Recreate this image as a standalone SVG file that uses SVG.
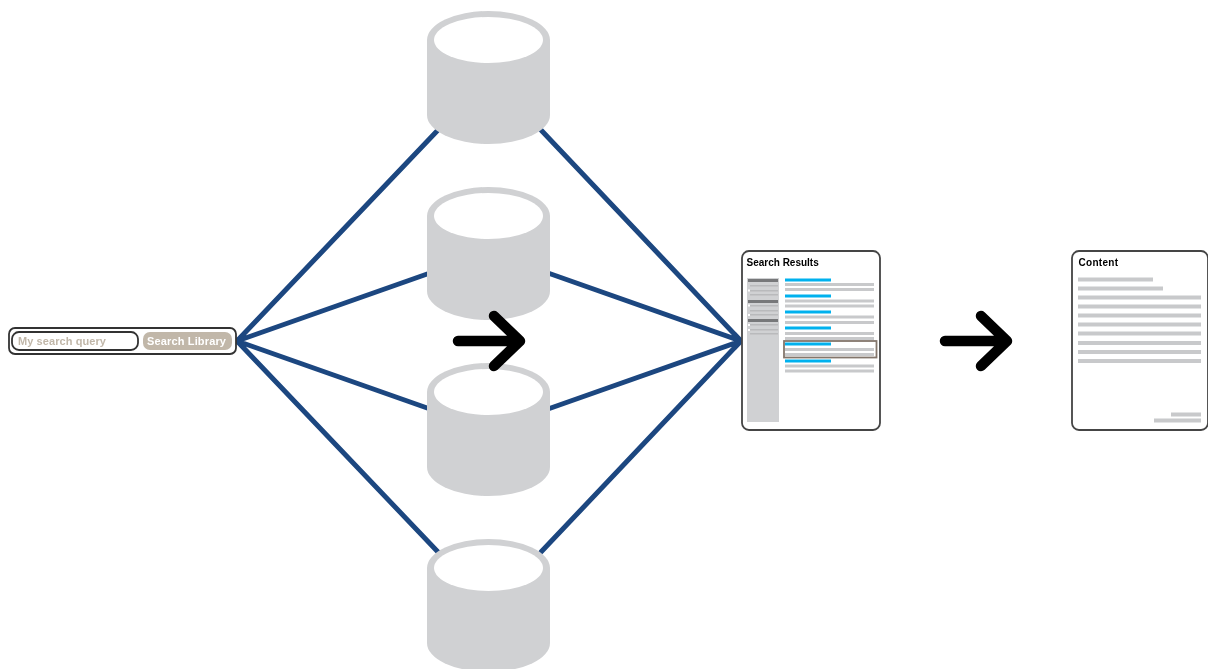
<svg xmlns="http://www.w3.org/2000/svg" width="1208" height="669" viewBox="0 0 1208 669">
<style>
.conn{stroke:#1c4680;stroke-width:5;fill:none;stroke-linecap:round}
.arrow{stroke:#000;stroke-width:10.500;fill:none;stroke-linecap:round;stroke-linejoin:round}
.body{fill:#d0d1d3}
.panel{fill:#fff;stroke:#444;stroke-width:1.800}
.title{font:bold 10px "Liberation Sans",Arial,sans-serif;fill:#000}
.g{fill:#c8c9cb}
.side{fill:#d0d1d3}
.dk{fill:#77787a}
.b{fill:#00b1ee}
.sl{fill:#b9babc}
.w{fill:#fff}
</style>
<defs>
<filter id="soft" x="-5%" y="-5%" width="110%" height="110%"><feGaussianBlur stdDeviation="0.6"/></filter>
<g id="cyl">
<path class="body" d="M427 40A61.5 29 0 0 1 550 40V115A61.5 29 0 0 1 427 115Z"/>
<ellipse cx="488.500" cy="40" rx="54.500" ry="23" fill="#fff"/>
</g>
</defs>
<rect width="1208" height="669" fill="#fff"/>
<g filter="url(#soft)">
<g id="connectors">
<path class="conn" d="M237 341L438 130M237 341L430 273M237 341L430 409M237 341L438 552"/>
<path class="conn" d="M741 341L541 130M741 341L548 273M741 341L548 409M741 341L541 552"/>
</g>
<g id="db1"><use href="#cyl" y="0"/></g>
<g id="db2"><use href="#cyl" y="176"/></g>
<g id="db3"><use href="#cyl" y="352"/></g>
<g id="db4"><use href="#cyl" y="528"/></g>
<g id="arrow1"><path class="arrow" d="M458 341H519M494 316L520 341L494 366"/></g>
<g id="arrow2"><path class="arrow" d="M945 341H1006M981 316L1007 341L981 366"/></g>
<g id="search">
<rect x="9" y="328" width="227" height="26" rx="6" fill="#fff" stroke="#333" stroke-width="1.800"/>
<rect x="12" y="332" width="126" height="18" rx="7" fill="#fff" stroke="#333" stroke-width="1.800"/>
<text x="18" y="345" font-family="Liberation Sans,Arial,sans-serif" font-weight="bold" font-size="11" letter-spacing="0.080" fill="#c1b7a9">My search query</text>
<rect x="143" y="332" width="89" height="18" rx="7" fill="#c1b7a9"/>
<text x="147" y="345" font-family="Liberation Sans,Arial,sans-serif" font-weight="bold" font-size="11" letter-spacing="0.150" fill="#fff">Search Library</text>
</g>
<g id="results">
<rect class="panel" x="742" y="251" width="138" height="179" rx="7"/>
<text class="title" x="746.500" y="265.500">Search Results</text>
<rect class="side" x="747" y="278" width="32" height="144"/>
<rect class="dk" x="748" y="279" width="30" height="3"/>
<rect class="dk" x="748" y="300" width="30" height="3"/>
<rect class="dk" x="748" y="319" width="30" height="3"/>
<path class="sl" d="M750 285h28v1.500h-28zM750 290h28v1.500h-28zM750 294h28v1.500h-28zM750 305h28v1.500h-28zM750 310h28v1.500h-28zM750 314h28v1.500h-28zM750 324h28v1.500h-28zM750 329h28v1.500h-28zM750 333h28v1.500h-28z"/>
<path class="w" d="M748 289.500h2v2h-2zM748 304.500h2v2h-2zM748 314h2v2h-2zM748 324h2v2h-2zM748 329h2v2h-2z"/>
<rect class="w" x="784" y="341" width="93" height="16.500"/>
<path class="b" d="M785 278.500h46v3h-46zM785 294.500h46v3h-46zM785 310.500h46v3h-46zM785 326.500h46v3h-46zM785 342.500h46v3h-46zM785 359.500h46v3h-46z"/>
<path class="g" d="M785 283h89v3h-89zM785 288h89v3h-89zM785 299.500h89v3h-89zM785 304.500h89v3h-89zM785 315.500h89v3h-89zM785 321h89v3h-89zM785 332h89v3h-89zM785 337h89v3h-89zM785 348h89v3h-89zM785 353h89v3h-89zM785 364.500h89v3h-89zM785 369.500h89v3h-89z"/>
<rect x="784" y="341" width="92.500" height="16.500" fill="none" stroke="#83766c" stroke-width="1.800"/>
</g>
<g id="content">
<rect class="panel" x="1072" y="251" width="136" height="179" rx="7"/>
<text class="title" x="1078.500" y="265.500" letter-spacing="0.300">Content</text>
<path class="g" d="M1078 277.500h75v4h-75zM1078 286.500h85v4h-85zM1078 295.500h123v4h-123zM1078 304.500h123v4h-123zM1078 313.500h123v4h-123zM1078 322.500h123v4h-123zM1078 331.500h123v4h-123zM1078 341h123v4h-123zM1078 350h123v4h-123zM1078 359h123v4h-123zM1171 412.500h30v4h-30zM1154 418.500h47v4h-47z"/>
</g>
</g>
</svg>
